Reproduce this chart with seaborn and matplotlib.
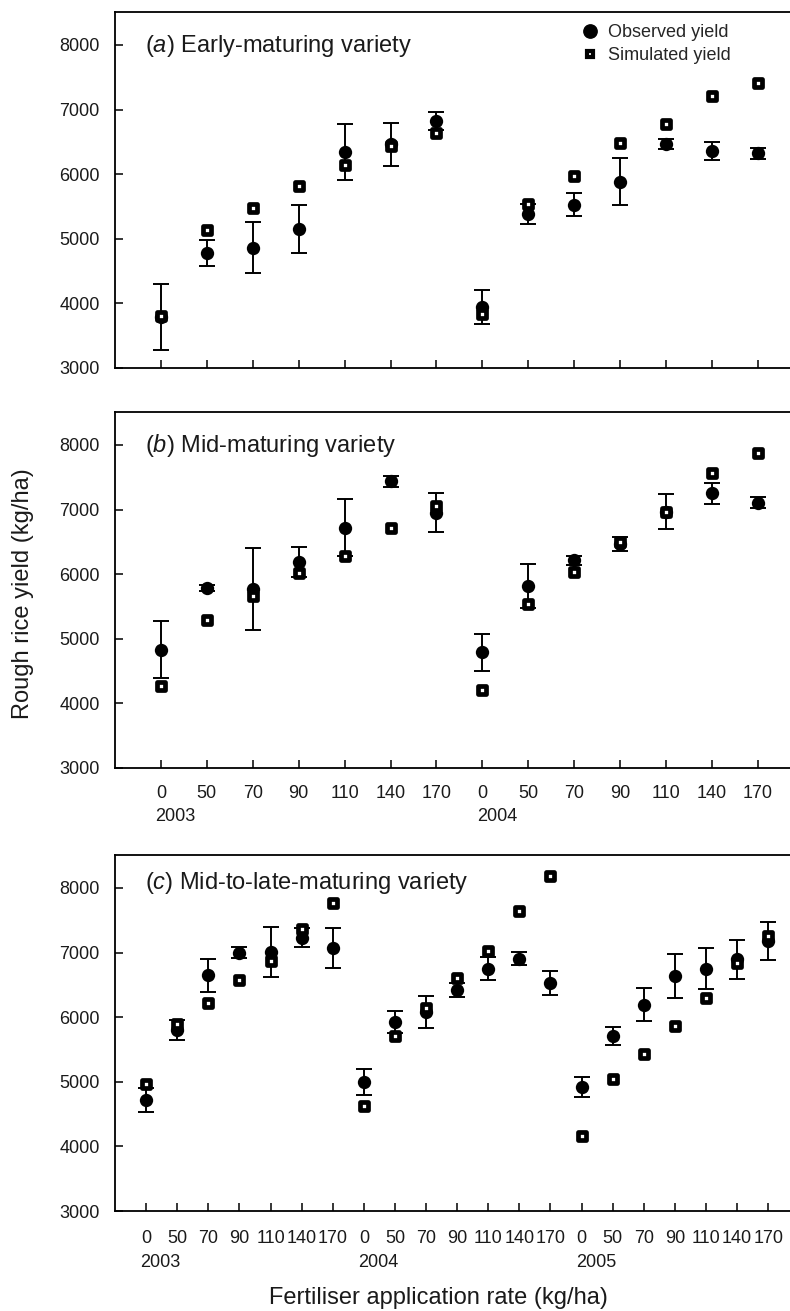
import numpy as np
import pandas as pd
import matplotlib
matplotlib.use("Agg")
import matplotlib.pyplot as plt
import matplotlib.transforms as mtransforms
from matplotlib.lines import Line2D
import seaborn as sns

# Fertiliser rates per season (kg/ha)
rates = [0, 50, 70, 90, 110, 140, 170]
years_ab = ["2003", "2004"]
years_c = ["2003", "2004", "2005"]

# (a) Early-maturing variety
early_obs = [3790, 4780, 4865, 5154, 6347, 6465, 6827,
             3945, 5391, 5526, 5882, 6466, 6357, 6321]
early_err = [506, 207, 400, 367, 434, 333, 140,
             261, 155, 180, 362, 72, 142, 90]
early_sim = [3800, 5133, 5484, 5815, 6146, 6440, 6641,
             3832, 5536, 5970, 6486, 6770, 7204, 7406]

# (b) Mid-maturing variety
mid_obs = [4830, 5784, 5768, 6191, 6722, 7438, 6954,
           4789, 5820, 6212, 6469, 6969, 7253, 7109]
mid_err = [443, 50, 637, 235, 443, 88, 302,
           283, 340, 65, 103, 274, 165, 85]
mid_sim = [4273, 5294, 5665, 6016, 6284, 6712, 7062,
           4211, 5541, 6026, 6505, 6969, 7562, 7882]

# (c) Mid-to-late-maturing variety
late_obs = [4723, 5797, 6648, 6999, 7009, 7231, 7071,
            4997, 5926, 6081, 6426, 6751, 6906, 6529,
            4920, 5709, 6194, 6638, 6751, 6896, 7180]
late_err = [188, 155, 258, 90, 380, 147, 315,
            200, 168, 245, 110, 180, 103, 180,
            150, 142, 258, 335, 322, 305, 297]
late_sim = [4961, 5890, 6225, 6581, 6870, 7360, 7773,
            4620, 5709, 6148, 6607, 7025, 7639, 8186,
            4161, 5049, 5436, 5859, 6297, 6839, 7252]


def make_frame(years, obs, err, sim):
    n = len(years) * len(rates)
    return pd.DataFrame({
        "x": np.arange(n),
        "rate": rates * len(years),
        "year": [y for y in years for _ in rates],
        "obs": obs,
        "err": err,
        "sim": sim,
    })


panels = [
    ("a", "Early-maturing variety", make_frame(years_ab, early_obs, early_err, early_sim)),
    ("b", "Mid-maturing variety", make_frame(years_ab, mid_obs, mid_err, mid_sim)),
    ("c", "Mid-to-late-maturing variety", make_frame(years_c, late_obs, late_err, late_sim)),
]

sns.set_theme(style="ticks")
plt.rcParams["font.family"] = ["Liberation Sans", "DejaVu Sans"]
plt.rcParams["mathtext.fontset"] = "custom"
plt.rcParams["mathtext.it"] = "Liberation Sans:italic"
plt.rcParams["mathtext.rm"] = "Liberation Sans"

W, H = 790, 1311
fig = plt.figure(figsize=(W / 100, H / 100), dpi=100)

# axes boxes in pixels: (top, bottom)
boxes = [(12, 368), (412, 768), (855, 1211)]
left_px = 115
axes = []
for top, bottom in boxes:
    ax = fig.add_axes([left_px / W, 1 - bottom / H, 1 - left_px / W, (bottom - top) / H])
    axes.append(ax)

for i, (ax, (letter, title, df)) in enumerate(zip(axes, panels)):
    ax.errorbar(df["x"], df["obs"], yerr=df["err"], fmt="none", ecolor="black",
                elinewidth=1.4, capsize=5.6, capthick=1.4, zorder=2)
    sns.scatterplot(data=df, x="x", y="obs", marker="o", s=92, color="black",
                    linewidth=0, ax=ax, zorder=3)
    sns.scatterplot(data=df, x="x", y="sim", marker="s", s=36, color="white",
                    edgecolor="black", linewidth=3.4, ax=ax, zorder=4)

    n = len(df)
    ax.set_xlim(-1.0, n - 0.3)
    ax.set_ylim(3000, 8510)
    ax.set_yticks(range(3000, 8001, 1000))
    ax.set_xticks(df["x"])
    ax.set_xlabel("")
    ax.set_ylabel("")
    for s in ["left", "bottom", "top"]:
        ax.spines[s].set_linewidth(1.3)
        ax.spines[s].set_color("black")
    ax.spines["right"].set_visible(False)
    ax.tick_params(direction="in", length=6, width=1.1, colors="black",
                   labelsize=13, labelcolor="#1a1a1a")
    ax.tick_params(axis="y", pad=11)

    if letter == "a":
        ax.set_xticklabels([])
    else:
        ax.set_xticklabels([str(r) for r in df["rate"]])
        ax.tick_params(axis="x", pad=12 if letter == "b" else 14)
        trans = mtransforms.blended_transform_factory(ax.transData, ax.transAxes)
        yy = -0.136 if letter == "b" else -0.145
        for yr in df["year"].unique():
            x0 = df.loc[df["year"] == yr, "x"].iloc[0]
            ax.annotate(yr, xy=(x0, yy), xycoords=trans, xytext=(-4, 0),
                        textcoords="offset points", ha="left", va="center",
                        fontsize=13, color="#1a1a1a")

    ty = 0.888 if letter != "c" else 0.905
    ax.text(0.044, ty, r"($\mathit{%s}$) %s" % (letter, title), transform=ax.transAxes,
            ha="left", va="baseline", fontsize=17, color="#1a1a1a")

# legend in panel (a)
handles = [
    Line2D([], [], marker="o", color="black", ls="none", markersize=9.6),
    Line2D([], [], marker="s", markerfacecolor="white", markeredgecolor="black",
           markeredgewidth=3.0, markersize=5.0, ls="none"),
]
axes[0].legend(handles, ["Observed yield", "Simulated yield"], loc="upper left",
               bbox_to_anchor=(0.69, 0.965), frameon=False, fontsize=13,
               borderpad=0, borderaxespad=0, handlelength=1.0, handletextpad=0.5,
               labelspacing=0.3)

axes[1].set_ylabel("Rough rice yield (kg/ha)", fontsize=17, color="#1a1a1a", va="center")
axes[1].yaxis.set_label_coords(-0.136, 0.489)
axes[2].set_xlabel("Fertiliser application rate (kg/ha)", fontsize=17, color="#1a1a1a",
                   va="center")
axes[2].xaxis.set_label_coords(0.4785, -0.244)

fig.savefig("out.png", dpi=100)
